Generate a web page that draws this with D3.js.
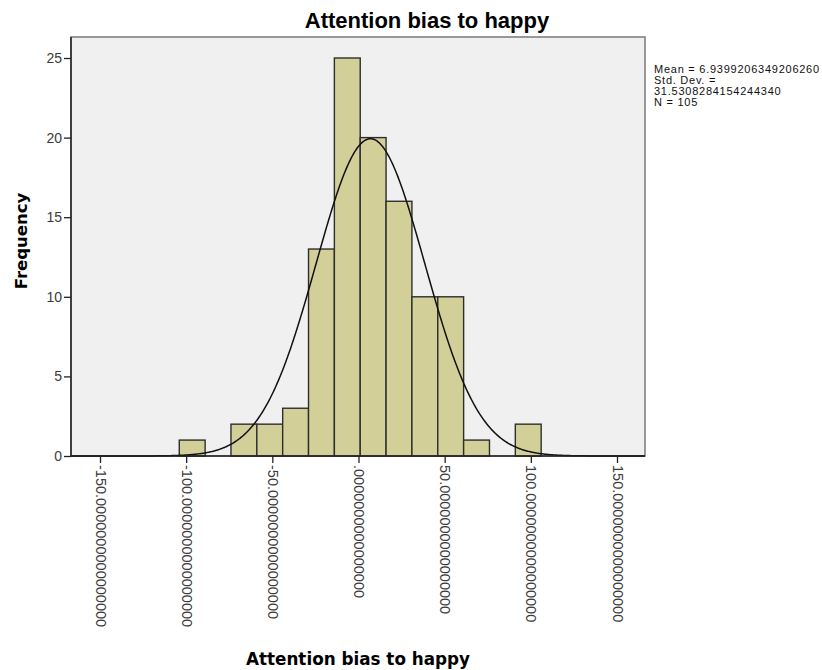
<!DOCTYPE html>
<html>
<head>
<meta charset="utf-8">
<script src="https://cdn.jsdelivr.net/npm/d3@7"></script>
<style>
  body { margin: 0; background: #fff; }
</style>
</head>
<body>
<script>
// histogram bins (left edges) and counts
var binStarts = [-104, -89, -74, -59, -44, -29, -14, 1, 16, 31, 46, 61, 76, 91];
var counts = [1, 0, 2, 2, 3, 13, 25, 20, 16, 10, 10, 1, 0, 2];
var binWidth = 15;

var xTicks = [-150, -100, -50, 0, 50, 100, 150];
var xTickLabels = ["-150.0000000000000000", "-100.0000000000000000", "-50.0000000000000000",
  ".0000000000000000", "50.0000000000000000", "100.0000000000000000", "150.0000000000000000"];
var yTicks = [0, 5, 10, 15, 20, 25];

var meanVal = 6.9399206349206260;
var sdVal = 31.5308284154244340;
var nVal = 105;
var statLines = ["Mean = 6.9399206349206260", "Std. Dev. =", "31.5308284154244340", "N = 105"];

var w = 822, h = 670;
var pLeft = 71, pRight = 645, pTop = 37, pBottom = 456;

var svg = d3.select("body").append("svg")
  .attr("width", w)
  .attr("height", h);

var x = d3.scaleLinear().domain([-150, 150]).range([100, 617]);
var y = d3.scaleLinear().domain([0, 25]).range([pBottom, 58]);

// plot background + frame
svg.append("rect")
  .attr("x", pLeft).attr("y", pTop)
  .attr("width", pRight - pLeft).attr("height", pBottom - pTop)
  .attr("fill", "#f0f0f0")
  .attr("stroke", "#7a7a7a")
  .attr("stroke-width", 1.5);

// bars
var binData = counts.map(function(c, i) { return {x0: binStarts[i], c: c}; })
  .filter(function(d) { return d.c > 0; });

svg.selectAll("rect.bar")
  .data(binData)
  .enter()
  .append("rect")
  .attr("class", "bar")
  .attr("x", function(d) { return x(d.x0); })
  .attr("y", function(d) { return y(d.c); })
  .attr("width", function(d) { return x(d.x0 + binWidth) - x(d.x0); })
  .attr("height", function(d) { return y(0) - y(d.c); })
  .attr("fill", "#d3cf98")
  .attr("stroke", "#2e2e2e")
  .attr("stroke-width", 1.4);

// fitted normal curve
var dom = [x.invert(pLeft), x.invert(pRight)];
var pts = d3.range(dom[0], dom[1], 0.5).map(function(v) {
  var z = (v - meanVal) / sdVal;
  return [v, nVal * binWidth / (sdVal * Math.sqrt(2 * Math.PI)) * Math.exp(-0.5 * z * z)];
});
svg.append("path")
  .datum(pts)
  .attr("fill", "none")
  .attr("stroke", "#111")
  .attr("stroke-width", 1.5)
  .attr("d", d3.line().x(function(d) { return x(d[0]); }).y(function(d) { return y(d[1]); }));

// axes
var yAxis = svg.append("g")
  .attr("transform", "translate(" + pLeft + ",0)")
  .call(d3.axisLeft(y).tickValues(yTicks).tickSize(7).tickPadding(2).tickSizeOuter(0));
yAxis.select(".domain").attr("stroke", "#222").attr("stroke-width", 1.5)
  .attr("d", "M0," + pTop + "V" + pBottom);
yAxis.selectAll(".tick line").attr("stroke", "#222").attr("stroke-width", 1.3);
yAxis.selectAll(".tick text")
  .attr("font-family", "Liberation Sans, Arial, sans-serif")
  .attr("font-size", 14)
  .attr("fill", "#3a3a3a");

var xAxis = svg.append("g")
  .attr("transform", "translate(0," + pBottom + ")")
  .call(d3.axisBottom(x).tickValues(xTicks).tickSize(7).tickSizeOuter(0)
    .tickFormat(function(d, i) { return xTickLabels[i]; }));
xAxis.select(".domain").attr("stroke", "#222").attr("stroke-width", 1.5)
  .attr("d", "M" + pLeft + ",0H" + pRight);
xAxis.selectAll(".tick line").attr("stroke", "#222").attr("stroke-width", 1.3);
xAxis.selectAll(".tick text")
  .attr("font-family", "Liberation Sans, Arial, sans-serif")
  .attr("font-size", 14.5)
  .attr("fill", "#3a3a3a")
  .attr("text-anchor", "start")
  .attr("dy", null)
  .attr("y", 0)
  .attr("transform", "translate(-5,9) rotate(90)");

// titles
svg.append("text")
  .attr("x", 427).attr("y", 28)
  .attr("text-anchor", "middle")
  .attr("font-family", "Liberation Sans, Arial, sans-serif")
  .attr("font-weight", "bold")
  .attr("font-size", 22)
  .text("Attention bias to happy");

svg.append("text")
  .attr("x", 358).attr("y", 665)
  .attr("text-anchor", "middle")
  .attr("font-family", "DejaVu Sans, sans-serif")
  .attr("font-weight", "bold")
  .attr("font-size", 16.8)
  .text("Attention bias to happy");

svg.append("text")
  .attr("transform", "translate(27,241) rotate(-90)")
  .attr("text-anchor", "middle")
  .attr("font-family", "DejaVu Sans, sans-serif")
  .attr("font-weight", "bold")
  .attr("font-size", 16.5)
  .text("Frequency");

// stats text
svg.append("g").selectAll("text")
  .data(statLines)
  .enter()
  .append("text")
  .attr("x", 654)
  .attr("y", function(d, i) { return 73 + i * 11; })
  .attr("font-family", "Liberation Sans, Arial, sans-serif")
  .attr("font-size", 11)
  .attr("letter-spacing", 0.75)
  .attr("fill", "#111")
  .text(function(d) { return d; });
</script>
</body>
</html>
